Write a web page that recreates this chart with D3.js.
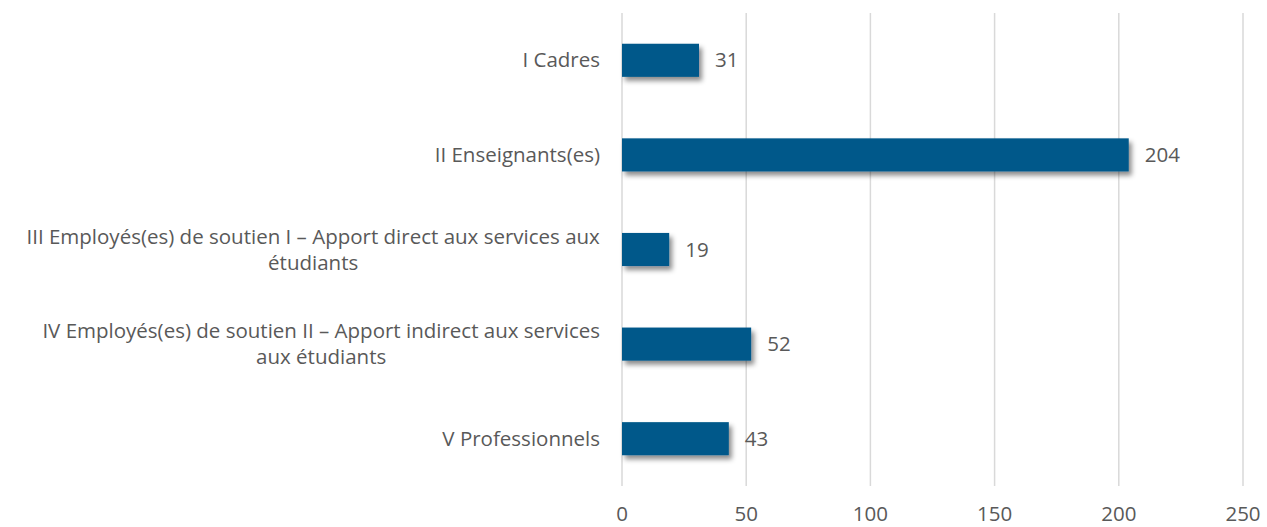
<!DOCTYPE html>
<html>
<head>
<meta charset="utf-8">
<script src="https://cdn.jsdelivr.net/npm/d3@7"></script>
<style>
  body { margin: 0; background: #fff; }
  text { font-family: "Open Sans", sans-serif; fill: #595959; }
</style>
</head>
<body>
<script>
// categories (line breaks as in the original wrap)
var categories = [
  "I Cadres",
  "II Enseignants(es)",
  "III Employés(es) de soutien I – Apport direct aux services aux\nétudiants",
  "IV Employés(es) de soutien II – Apport indirect aux services\naux étudiants",
  "V Professionnels"
];
var values = [31, 204, 19, 52, 43];
var tickValues = [0, 50, 100, 150, 200, 250];

var width = 1267, height = 527;
var margin = {top: 13, right: 24, bottom: 41, left: 622};
var fontSize = "20.5px";

var data = categories.map(function(c, i) { return {cat: c, val: values[i]}; });

var svg = d3.select("body").append("svg")
    .attr("width", width)
    .attr("height", height);

var defs = svg.append("defs");
var f = defs.append("filter").attr("id", "shadow")
    .attr("x", "-10%").attr("y", "-30%").attr("width", "130%").attr("height", "190%");
f.append("feDropShadow")
    .attr("dx", 3).attr("dy", 4).attr("stdDeviation", 2.5)
    .attr("flood-color", "#000").attr("flood-opacity", 0.45);

var x_scale = d3.scaleLinear().domain([0, 250]).range([margin.left, 1243]);
var y_scale = d3.scaleBand().domain(categories)
    .range([margin.top, height - margin.bottom])
    .paddingInner(0.65).paddingOuter(0.325);

// gridlines
svg.append("g")
  .selectAll("line")
  .data(tickValues)
  .enter().append("line")
    .attr("x1", function(d) { return x_scale(d); })
    .attr("x2", function(d) { return x_scale(d); })
    .attr("y1", margin.top)
    .attr("y2", height - margin.bottom)
    .attr("stroke", "#d9d9d9")
    .attr("stroke-width", 1.5);

// x tick labels
svg.append("g")
  .selectAll("text")
  .data(tickValues)
  .enter().append("text")
    .attr("x", function(d) { return x_scale(d); })
    .attr("y", 521)
    .attr("text-anchor", "middle")
    .style("font-size", fontSize)
    .text(function(d) { return d; });

// bars
svg.append("g")
  .selectAll("rect")
  .data(data)
  .enter().append("rect")
    .attr("x", x_scale(0))
    .attr("y", function(d) { return y_scale(d.cat); })
    .attr("width", function(d) { return x_scale(d.val) - x_scale(0); })
    .attr("height", y_scale.bandwidth())
    .attr("fill", "#02598a")
    .attr("filter", "url(#shadow)");

// value labels
svg.append("g")
  .selectAll("text")
  .data(data)
  .enter().append("text")
    .attr("x", function(d) { return x_scale(d.val) + 16; })
    .attr("y", function(d) { return y_scale(d.cat) + y_scale.bandwidth() / 2; })
    .attr("dy", "0.35em")
    .style("font-size", fontSize)
    .text(function(d) { return d.val; });

// category labels
var lab = svg.append("g")
  .selectAll("text")
  .data(data)
  .enter().append("text")
    .attr("text-anchor", "middle")
    .style("font-size", fontSize)
    .attr("transform", function(d) {
      var lines = d.cat.split("\n");
      var cy = y_scale(d.cat) + y_scale.bandwidth() / 2 - (lines.length - 1) * 13;
      return "translate(0," + cy + ")";
    });

lab.each(function(d) {
  var t = d3.select(this);
  var lines = d.cat.split("\n");
  lines.forEach(function(l, i) {
    t.append("tspan").attr("x", 0).attr("y", i * 26).attr("dy", "0.35em").text(l);
  });
  // centre lines under the widest one, block ending at x=600
  var w = this.getBBox().width;
  t.selectAll("tspan").attr("x", 600 - w / 2);
});
</script>
</body>
</html>
